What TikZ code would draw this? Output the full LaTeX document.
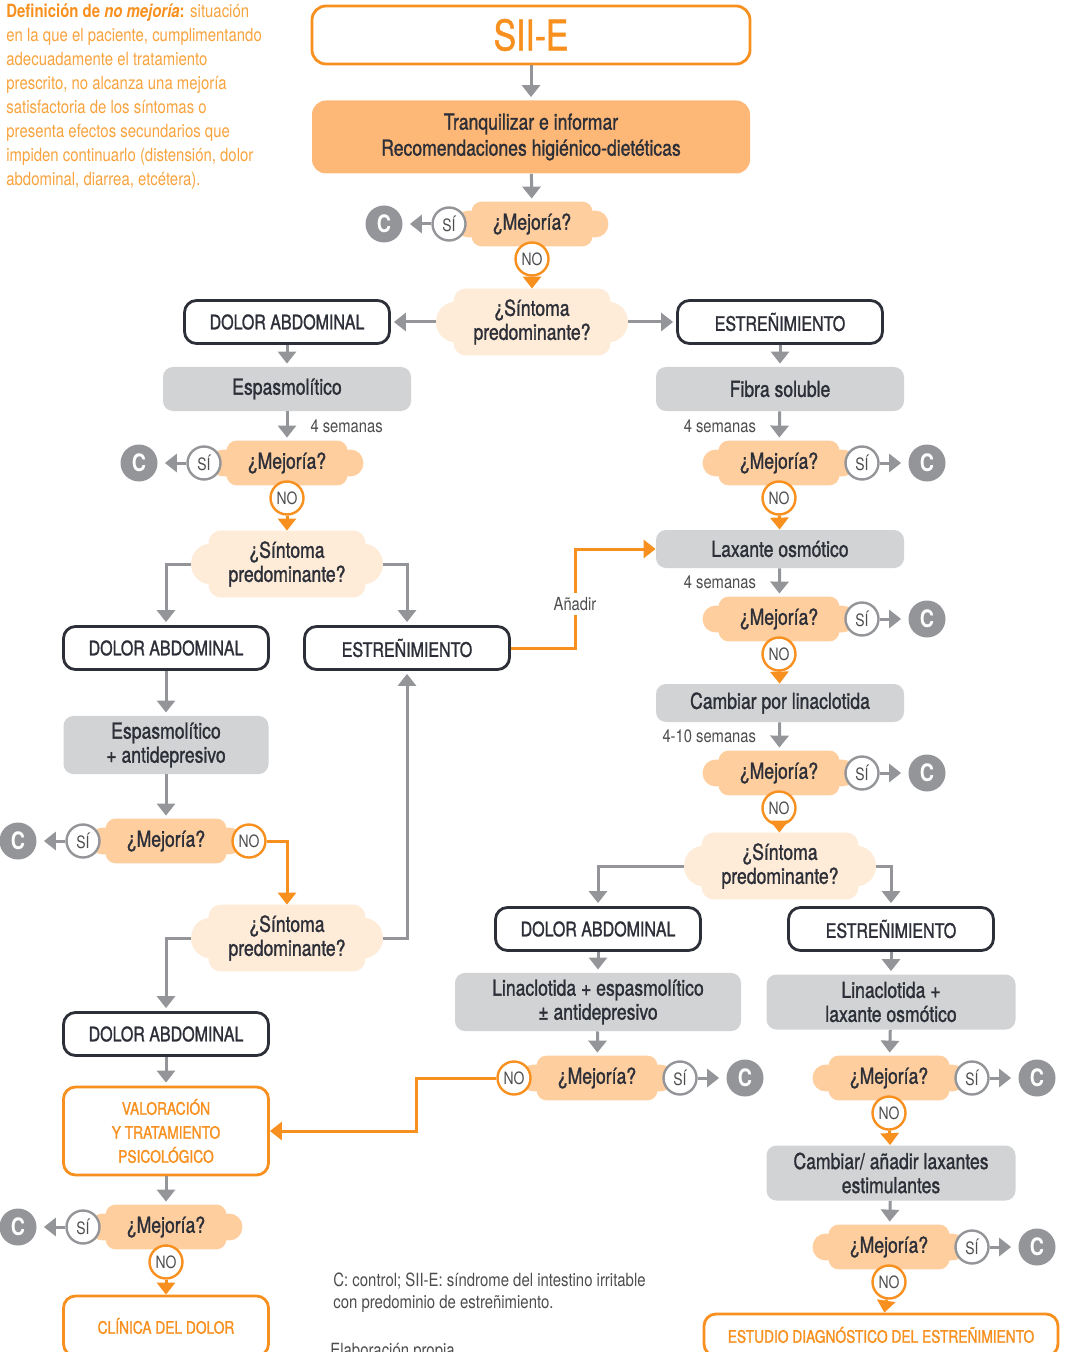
\documentclass[tikz,border=0pt]{standalone}
\usepackage{fontspec}
\setmainfont{TeX Gyre Heros}[FakeStretch=0.82]
\newfontfamily\medio{TeX Gyre Heros}[FakeStretch=0.8,FakeBold=1.2]
\usetikzlibrary{arrows.meta,positioning,calc}

\definecolor{naranja}{HTML}{F7901E}
\definecolor{naranjaclaro}{HTML}{F8A33E}
\definecolor{gris}{HTML}{939598}
\definecolor{grisclaro}{HTML}{D1D3D4}
\definecolor{oscuro}{HTML}{2D2F38}
\definecolor{texto}{HTML}{4D4D4F}
\definecolor{recfill}{HTML}{FDB877}
\definecolor{mejfill}{HTML}{FECE9F}
\definecolor{sintfill}{HTML}{FEEBD8}

\pgfdeclarelayer{background}
\pgfsetlayers{background,main}

\tikzset{
  caja/.style={draw=oscuro,line width=1.4pt,rounded corners=6pt,fill=white,
    minimum width=102.5pt,minimum height=21.5pt,text=oscuro,
    font=\medio\fontsize{10}{12}\selectfont},
  cajagris/.style={fill=grisclaro,rounded corners=5pt,minimum width=124pt,
    minimum height=22pt,align=center,text=oscuro,
    font=\medio\fontsize{11}{12}\selectfont},
  cajanaranja/.style={draw=naranja,line width=1.4pt,rounded corners=6pt,fill=white,
    minimum width=102.5pt,align=center,text=naranja,
    font=\medio\fontsize{8.6}{12}\selectfont},
  titulo/.style={draw=naranja,line width=1.4pt,rounded corners=7pt,
    minimum width=219pt,minimum height=29pt,text=naranja,
    font=\medio\fontsize{21}{24}\selectfont},
  recomend/.style={fill=recfill,rounded corners=7pt,minimum width=219pt,
    minimum height=36.5pt,align=center,text=oscuro,
    font=\medio\fontsize{11}{13}\selectfont},
  mejoria/.style={minimum width=76pt,minimum height=22pt,inner sep=0pt,text=oscuro,
    font=\medio\fontsize{11}{13}\selectfont},
  sintoma/.style={minimum width=95.5pt,minimum height=33pt,inner sep=0pt,
    align=center,text=oscuro,font=\medio\fontsize{11}{12}\selectfont},
  si/.style={circle,draw=gris,line width=1.2pt,fill=white,minimum size=16.5pt,
    inner sep=0pt,text=texto,font=\fontsize{8.5}{10}\selectfont,node distance=41.5pt},
  no/.style={si,draw=naranja,node distance=17.5pt},
  control/.style={circle,fill=gris,minimum size=18.5pt,inner sep=0pt,text=white,
    font=\fontsize{12}{12}\bfseries\selectfont,node distance=32.5pt},
  flecha/.style={draw=gris,line width=1.5pt,-{Triangle[width=9pt,length=6pt]},
    shorten >=1.5pt},
  flechac/.style={flecha,shorten >=3.5pt},
  flechanar/.style={draw=naranja,line width=1.5pt,-{Triangle[width=9pt,length=6pt]}},
  lbl/.style={inner sep=1pt,text=texto,font=\fontsize{9}{11}\selectfont},
  nota/.style={anchor=north west,inner sep=0pt,align=left,
    font=\fontsize{9.1}{12}\selectfont}
}

\begin{document}
\begin{tikzpicture}[x=0.5pt,y=-0.5pt]
  \useasboundingbox (0,0) rectangle (1066,1352);

  % definicion y pie
  \node[nota,text=naranjaclaro] (def) at (6,3)
    {{\bfseries\color{naranja}Definición de \textit{no mejoría}:} situación\\
     en la que el paciente, cumplimentando\\
     adecuadamente el tratamiento\\
     prescrito, no alcanza una mejoría\\
     satisfactoria de los síntomas o\\
     presenta efectos secundarios que\\
     impiden continuarlo (distensión, dolor\\
     abdominal, diarrea, etcétera).};
  \node[nota,text=texto,font=\fontsize{9.1}{11}\selectfont] (pie) at (333,1272)
    {C: control; SII-E: síndrome del intestino irritable\\
     con predominio de estreñimiento.};
  \node[nota,text=texto] (fuente) at (330,1343) {Elaboración propia.};

  % tronco
  \node[titulo] (sii) at (531,35) {SII-E};
  \node[recomend] (rec) at (531,137)
    {Tranquilizar e informar\\Recomendaciones higiénico-dietéticas};
  \node[mejoria] (mej1) at (532,224) {¿Mejoría?};
  \node[si] (si1) [left of=mej1] {SÍ};
  \node[control] (c1) [left of=si1] {C};
  \node[no] (no1) [below of=mej1] {NO};
  \node[sintoma] (sint1) at (532,322) {¿Síntoma\\predominante?};
  \node[caja] (dolA) at (287,322) {DOLOR ABDOMINAL};
  \node[caja] (estA) at (780,322) {ESTREÑIMIENTO};

  % rama izquierda
  \node[cajagris] (espA) at (287,389) {Espasmolítico};
  \node[mejoria] (mej2) at (287,463) {¿Mejoría?};
  \node[si] (si2) [left of=mej2] {SÍ};
  \node[control] (c2) [left of=si2] {C};
  \node[no] (no2) [below of=mej2] {NO};
  \node[sintoma] (sint2) at (287,564) {¿Síntoma\\predominante?};
  \node[caja] (dolB) at (166,648) {DOLOR ABDOMINAL};
  \node[caja] (estB) at (407,648) {ESTREÑIMIENTO};
  \node[cajagris,minimum width=102.5pt,minimum height=29pt] (espB) at (166,745)
    {Espasmolítico\\+ antidepresivo};
  \node[mejoria] (mej3) at (166,841) {¿Mejoría?};
  \node[si] (si3) [left of=mej3] {SÍ};
  \node[control] (c3) [left of=si3] {C};
  \node[no] (no3) [right of=mej3,node distance=41.5pt] {NO};
  \node[sintoma] (sint3) at (287,938) {¿Síntoma\\predominante?};
  \node[caja] (dolC) at (166,1034) {DOLOR ABDOMINAL};
  \node[cajanaranja,minimum height=44pt] (valor) at (166,1131)
    {VALORACIÓN\\Y TRATAMIENTO\\PSICOLÓGICO};
  \node[mejoria] (mej4) at (166,1227) {¿Mejoría?};
  \node[si] (si4) [left of=mej4] {SÍ};
  \node[control] (c4) [left of=si4] {C};
  \node[no] (no4) [below of=mej4] {NO};
  \node[cajanaranja,minimum height=30pt] (clin) at (166,1326) {CLÍNICA DEL DOLOR};

  % rama derecha
  \node[cajagris] (fibA) at (780,389) {Fibra soluble};
  \node[mejoria] (mej5) at (779,463) {¿Mejoría?};
  \node[si] (si5) [right of=mej5] {SÍ};
  \node[control] (c5) [right of=si5] {C};
  \node[no] (no5) [below of=mej5] {NO};
  \node[cajagris,minimum height=19pt] (laxA) at (780,549) {Laxante osmótico};
  \node[mejoria] (mej6) at (779,619) {¿Mejoría?};
  \node[si] (si6) [right of=mej6] {SÍ};
  \node[control] (c6) [right of=si6] {C};
  \node[no] (no6) [below of=mej6] {NO};
  \node[cajagris,minimum height=19pt] (camb) at (780,703) {Cambiar por linaclotida};
  \node[mejoria] (mej7) at (779,773) {¿Mejoría?};
  \node[si] (si7) [right of=mej7] {SÍ};
  \node[control] (c7) [right of=si7] {C};
  \node[no] (no7) [below of=mej7] {NO};
  \node[sintoma] (sint4) at (780,866) {¿Síntoma\\predominante?};
  \node[caja] (dolD) at (598,929) {DOLOR ABDOMINAL};
  \node[caja] (estD) at (891,929) {ESTREÑIMIENTO};
  \node[cajagris,minimum width=143pt,minimum height=27.5pt] (linA) at (598,1002)
    {Linaclotida + espasmolítico\\± antidepresivo};
  \node[cajagris,minimum width=124.5pt,minimum height=27.5pt] (linB) at (891,1002)
    {Linaclotida +\\laxante osmótico};
  \node[mejoria] (mej8) at (597,1078) {¿Mejoría?};
  \node[si] (si8) [right of=mej8] {SÍ};
  \node[control] (c8) [right of=si8] {C};
  \node[no] (no8) [left of=mej8,node distance=41.5pt] {NO};
  \node[mejoria] (mej9) at (889,1078) {¿Mejoría?};
  \node[si] (si9) [right of=mej9] {SÍ};
  \node[control] (c9) [right of=si9] {C};
  \node[no] (no9) [below of=mej9] {NO};
  \node[cajagris,minimum width=124.5pt,minimum height=27.5pt] (cambB) at (891,1173)
    {Cambiar/ añadir laxantes\\estimulantes};
  \node[mejoria] (mej10) at (889,1247) {¿Mejoría?};
  \node[si] (si10) [right of=mej10] {SÍ};
  \node[control] (c10) [right of=si10] {C};
  \node[no] (no10) [below of=mej10] {NO};
  \node[cajanaranja,minimum width=177pt,minimum height=21pt] (estudio) at (881,1335)
    {ESTUDIO DIAGNÓSTICO DEL ESTREÑIMIENTO};

  % formas de las preguntas
  \begin{pgfonlayer}{background}
    \foreach \i in {1,...,10} {
      \fill[mejfill,rounded corners=5pt] ([xshift=8pt]mej\i.south west)
        rectangle ([xshift=-8pt]mej\i.north east);
      \fill[mejfill,rounded corners=6.5pt] ([yshift=4.5pt]mej\i.south west)
        rectangle ([yshift=-4.5pt]mej\i.north east);
    }
    \foreach \i in {1,...,4} {
      \fill[sintfill,rounded corners=6pt] ([xshift=8.75pt]sint\i.south west)
        rectangle ([xshift=-8.75pt]sint\i.north east);
      \fill[sintfill,rounded corners=10pt] ([yshift=6.5pt]sint\i.south west)
        rectangle ([yshift=-6.5pt]sint\i.north east);
    }
  \end{pgfonlayer}

  % conectores
  \draw[flecha] (sii) -- (rec);
  \draw[flecha] (rec) -- (mej1);
  \draw[flechanar] (no1) -- (sint1);
  \draw[flecha] (sint1) -- (dolA);
  \draw[flecha] (sint1) -- (estA);
  \draw[flecha] (dolA) -- (espA);
  \draw[flecha] (estA) -- (fibA);
  \draw[flecha] (espA) -- node[lbl,right=10pt] {4 semanas} (mej2);
  \draw[flechanar] (no2) -- (sint2);
  \draw[flecha] (sint2) -| (dolB);
  \draw[flecha] (sint2) -| (estB);
  \draw[flecha] (dolB) -- (espB);
  \draw[flecha] (espB) -- (mej3);
  \draw[flechanar] (no3) -| (sint3);
  \draw[flecha] (sint3) -| (dolC);
  \draw[flecha] (sint3) -| (estB);
  \draw[flecha] (dolC) -- (valor);
  \draw[flecha] (valor) -- (mej4);
  \draw[flechanar] (no4) -- (clin);
  \coordinate (anadir) at (575,604);
  \draw[flechanar] (estB) -| (anadir) |- (laxA);
  \node[lbl,fill=white,inner sep=2pt] at (anadir) {Añadir};
  \draw[flecha] (fibA) -- node[lbl,left=10pt] {4 semanas} (mej5);
  \draw[flechanar] (no5) -- (laxA);
  \draw[flecha] (laxA) -- node[lbl,left=10pt] {4 semanas} (mej6);
  \draw[flechanar] (no6) -- (camb);
  \draw[flecha] (camb) -- node[lbl,left=10pt] {4-10 semanas} (mej7);
  \draw[flechanar] (no7) -- (sint4);
  \draw[flecha] (sint4) -| (dolD);
  \draw[flecha] (sint4) -| (estD);
  \draw[flecha] (dolD) -- (linA);
  \draw[flecha] (estD) -- (linB);
  \draw[flecha] (linA) -- (mej8);
  \draw[flecha] (linB) -- (mej9);
  \draw[flechanar] (no8) -| ($(valor.east)!0.6!(no8)$) |- (valor);
  \draw[flechanar] (no9) -- (cambB);
  \draw[flecha] (cambB) -- (mej10);
  \draw[flechanar] (no10) -- (estudio);
  \foreach \i in {1,...,10} {
    \draw[flechac] (si\i) -- (c\i);
  }
\end{tikzpicture}
\end{document}
